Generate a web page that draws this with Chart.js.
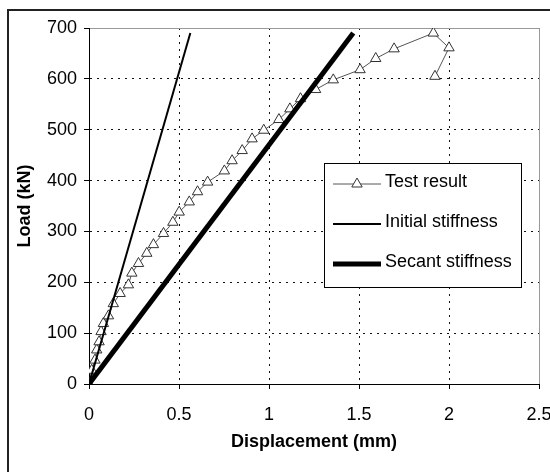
<!DOCTYPE html>
<html>
<head>
<meta charset="utf-8">
<script src="https://cdn.jsdelivr.net/npm/chart.js@4.4.1/dist/chart.umd.min.js"></script>
<style>
  html, body { margin: 0; padding: 0; background: #fff; overflow: hidden; }
  #wrap { position: relative; width: 550px; height: 472px; }
  #frame { position: absolute; left: 7px; top: 9px; width: 560px; height: 480px; border: 2px solid #222; box-sizing: border-box; pointer-events: none; }
</style>
</head>
<body>
<div id="wrap">
  <canvas id="chart" width="550" height="472"></canvas>
  <div id="frame"></div>
</div>
<script>
// test result (displacement mm, load kN)
const test_disp = [0, 0.015, 0.033, 0.043, 0.056, 0.067, 0.08, 0.108, 0.135, 0.173, 0.219, 0.238, 0.275, 0.321, 0.358, 0.414, 0.466, 0.501, 0.557, 0.603, 0.659, 0.752, 0.795, 0.851, 0.906, 0.971, 1.055, 1.116, 1.175, 1.259, 1.357, 1.506, 1.593, 1.695, 1.913, 2.0, 1.922];
const test_load = [0, 27, 47, 67, 83, 103, 119, 134, 158, 178, 195, 218, 237, 257, 274, 296, 318, 338, 358, 378, 397, 419, 439, 459, 482, 499, 520, 541, 561, 579, 598, 618, 640, 659, 690, 661, 605];

// stiffness lines
const initial_disp = [0, 0.563];
const initial_load = [0, 690];
const secant_disp = [0, 1.468];
const secant_load = [0, 690];

// axes
const x_ticks = [0, 0.5, 1, 1.5, 2, 2.5];
const y_ticks = [0, 100, 200, 300, 400, 500, 600, 700];

const legend_labels = ["Test result", "Initial stiffness", "Secant stiffness"];

function toPoints(xs, ys) {
    return xs.map((x, i) => ({ x: x, y: ys[i] }));
}

const FONT = "'Liberation Sans', Arial, sans-serif";

// legend drawn inside the plot, Excel style
const boxLegend = {
    id: "boxLegend",
    afterDatasetsDraw(chart) {
        const ctx = chart.ctx;
        const left = 324, top = 163, w = 197, h = 124;
        ctx.save();
        ctx.fillStyle = "#fff";
        ctx.fillRect(left, top, w, h);
        ctx.strokeStyle = "#000";
        ctx.lineWidth = 1;
        ctx.strokeRect(left + 0.5, top + 0.5, w, h);
        const order = [2, 1, 0];  // dataset index per legend row
        order.forEach((di, row) => {
            const ds = chart.data.datasets[di];
            const y = top + 21 + row * 40;
            ctx.strokeStyle = ds.borderColor;
            ctx.lineWidth = ds.borderWidth;
            ctx.beginPath();
            ctx.moveTo(left + 9, y);
            ctx.lineTo(left + 57, y);
            ctx.stroke();
            if (ds.pointRadius > 0) {
                ctx.fillStyle = ds.pointBackgroundColor;
                ctx.strokeStyle = ds.pointBorderColor;
                ctx.lineWidth = 1;
                Chart.helpers.drawPoint(ctx, { pointStyle: "triangle", radius: ds.pointRadius, rotation: 0, borderWidth: 1 }, left + 33, y);
            }
            ctx.fillStyle = "#000";
            ctx.font = "18px " + FONT;
            ctx.textBaseline = "middle";
            ctx.textAlign = "left";
            ctx.fillText(legend_labels[row], left + 61, y - 2);
        });
        ctx.restore();
    }
};

const chart = new Chart("chart", {
    type: "scatter",
    data: {
        datasets: [
            {
                label: legend_labels[2],
                data: toPoints(secant_disp, secant_load),
                showLine: true,
                borderColor: "#000",
                borderWidth: 5,
                pointRadius: 0,
                order: 1
            },
            {
                label: legend_labels[1],
                data: toPoints(initial_disp, initial_load),
                showLine: true,
                borderColor: "#000",
                borderWidth: 2,
                pointRadius: 0,
                order: 2
            },
            {
                label: legend_labels[0],
                data: toPoints(test_disp, test_load),
                showLine: true,
                borderColor: "#555",
                borderWidth: 1,
                pointStyle: "triangle",
                pointRadius: 6,
                pointBackgroundColor: "#fff",
                pointBorderColor: "#333",
                pointBorderWidth: 1,
                order: 3
            }
        ]
    },
    options: {
        animation: false,
        responsive: false,
        events: [],
        layout: { padding: { left: 9, top: 28, right: 11, bottom: 0 } },
        plugins: {
            legend: { display: false },
            tooltip: { enabled: false }
        },
        scales: {
            x: {
                type: "linear",
                min: 0,
                max: 2.5,
                afterBuildTicks: (scale) => { scale.ticks = x_ticks.map(v => ({ value: v })); },
                afterFit: (scale) => { scale.height = 88; scale.paddingLeft = 0; scale.paddingRight = 0; },
                ticks: {
                    color: "#000",
                    padding: 15,
                    maxRotation: 0,
                    font: { family: FONT, size: 18 },
                    callback: (v) => String(v)
                },
                grid: {
                    color: (c) => c.tick && c.tick.value === 2.5 ? "#999" : "#111",
                    lineWidth: 1,
                    tickLength: 5,
                    tickColor: "#000",
                    tickBorderDash: []
                },
                border: {
                    color: "#000",
                    width: 1,
                    dash: (c) => c.tick && c.tick.value === 2.5 ? [] : [2, 5]
                },
                title: {
                    display: true,
                    text: "Displacement (mm)",
                    color: "#000",
                    font: { family: FONT, size: 18, weight: "bold" },
                    padding: { top: 0, bottom: 19 }
                }
            },
            y: {
                type: "linear",
                min: 0,
                max: 700,
                afterBuildTicks: (scale) => { scale.ticks = y_ticks.map(v => ({ value: v })); },
                afterFit: (scale) => { scale.width = 80; scale.paddingTop = 0; scale.paddingBottom = 0; },
                ticks: {
                    color: "#000",
                    padding: 7,
                    font: { family: FONT, size: 18 },
                    callback: (v) => String(v)
                },
                grid: {
                    color: (c) => c.tick && c.tick.value === 700 ? "#999" : "#111",
                    lineWidth: 1,
                    tickLength: 5,
                    tickColor: "#000",
                    tickBorderDash: []
                },
                border: {
                    color: "#000",
                    width: 1,
                    dash: (c) => c.tick && c.tick.value === 700 ? [] : [2, 5]
                },
                title: {
                    display: true,
                    text: "Load (kN)",
                    color: "#000",
                    font: { family: FONT, size: 18, weight: "bold" },
                    padding: { top: 5, bottom: 0 }
                }
            }
        }
    },
    plugins: [boxLegend]
});
</script>
</body>
</html>
